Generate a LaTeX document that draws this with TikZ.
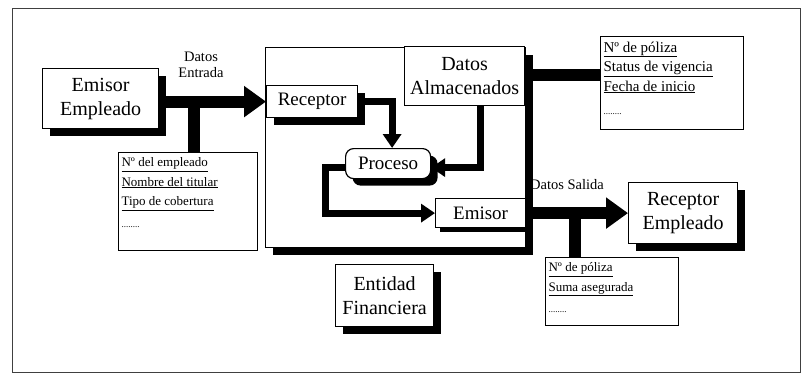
\documentclass[tikz,border=0pt]{standalone}
\usepackage{fontspec}
\setmainfont{Liberation Serif}
\usetikzlibrary{arrows.meta,shadows}
\begin{document}
\begin{tikzpicture}[x=1pt,y=-1pt,
  shad/.style={drop shadow={shadow xshift=7pt,shadow yshift=-7pt,fill=black,opacity=1}},
  box/.style={draw,line width=1.2pt,fill=white,anchor=north west,inner sep=0pt,align=center,font=\fontsize{20}{24}\selectfont},
  databox/.style={draw,line width=1.2pt,fill=white,anchor=north west,inner xsep=3pt,inner ysep=5pt,align=left,font=\fontsize{13}{19.5}\selectfont},
  lbl/.style={align=center,inner sep=1pt,font=\fontsize{14.5}{16}\selectfont},
  bigarrow/.style={line width=12pt,-{Triangle[length=22pt,width=30pt]}},
  bigline/.style={line width=12pt},
  midarrow/.style={line width=7pt,-{Triangle[length=14pt,width=18pt]}}
]
\useasboundingbox (0,0) rectangle (808,381);
\draw[line width=1pt,black!75] (12,8) rectangle (800,372);

% boxes
\node[box,shad,minimum width=116pt,minimum height=60pt] (em) at (42,68) {Emisor\\Empleado};
\node[box,shad,minimum width=260pt,minimum height=200pt] (big) at (265,47) {};
\node[box,minimum width=120pt,minimum height=59pt] (da) at (404,46) {Datos\\Almacenados};
\node[box,shad,minimum width=91pt,minimum height=32pt,font=\fontsize{19}{22}\selectfont] (rec) at (266,85) {Receptor};
\node[box,shad,minimum width=85pt,minimum height=30pt,rounded corners=8pt,font=\fontsize{19}{22}\selectfont] (pro) at (345,148) {Proceso};
\node[box,minimum width=90pt,minimum height=29pt,font=\fontsize{19}{22}\selectfont,drop shadow={shadow xshift=4pt,shadow yshift=-4pt,fill=black,opacity=1}] (emi) at (435,198) {Emisor};
\node[box,shad,minimum width=109pt,minimum height=61pt] (re) at (628,182) {Receptor\\Empleado};
\node[box,shad,minimum width=98pt,minimum height=62pt] (ef) at (335,264) {Entidad\\Financiera};

% data boxes
\node[databox] (d1) at (118,152) {\parbox[t][88pt][t]{133pt}{\underline{Nº del empleado}\\\underline{Nombre del titular}\\\underline{Tipo de cobertura}\\[2pt]{\fontsize{9}{10}\selectfont ........}}};
\node[databox,font=\fontsize{15}{19.5}\selectfont] (d2) at (600,36) {\parbox[t][83pt][t]{137pt}{\underline{Nº de póliza}\\\underline{Status de vigencia}\\\underline{Fecha de inicio}\\[4pt]{\fontsize{9}{10}\selectfont ........}}};
\node[databox] (d3) at (545,257) {\parbox[t][58pt][t]{127pt}{\underline{Nº de póliza}\\\underline{Suma asegurada}\\[2pt]{\fontsize{9}{10}\selectfont ........}}};

% labels
\node[lbl] (lde) at (201,65) {Datos\\Entrada};
\node[lbl,anchor=west] (lds) at (529,185) {Datos Salida};

% connectors
\draw[bigarrow] (rec.west -| em.east) -- (rec.west);
\coordinate (s1) at (194,101);
\draw[bigline] (s1) -- (s1 |- d1.north);

\coordinate (c2) at (528,75);
\draw[bigline] (c2) -- (c2 -| d2.west);

\draw[bigarrow] (emi.east) -- (emi.east -| re.west);
\coordinate (s2) at (575,213);
\draw[bigline] (s2) -- (s2 |- d3.north);

\draw[midarrow] ([xshift=4pt]rec.east) -| ([xshift=4pt]pro.north);
\draw[midarrow] ([xshift=16pt]da.south) |- ([yshift=-4pt]pro.east);
\draw[midarrow] ([yshift=-4pt]pro.west) -- ++(-20,0) |- (emi.west);
\end{tikzpicture}
\end{document}
